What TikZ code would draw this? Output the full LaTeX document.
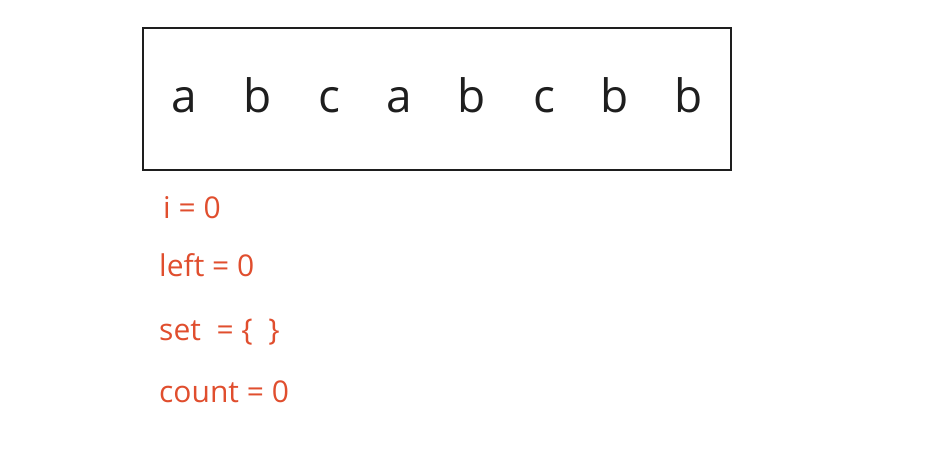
\documentclass[tikz,border=0pt]{standalone}
\usepackage{fontspec}
\setmainfont{Open Sans}
\definecolor{redtxt}{HTML}{E04E2E}
\definecolor{boxcol}{HTML}{1E1E1E}
\tikzset{
  letter/.style={anchor=base, inner sep=0pt, font=\fontsize{46}{50}\selectfont, text=boxcol},
  vartxt/.style={anchor=base west, inner sep=0pt, font=\fontsize{30}{33}\selectfont, text=redtxt},
  frame/.style={draw=boxcol, line width=2pt}
}
\begin{document}
\begin{tikzpicture}[x=1pt,y=-1pt]
\useasboundingbox (0,0) rectangle (925,464);
\node[frame, minimum width=588pt, minimum height=142pt, inner sep=0pt] (box) at (437,99) {};
\foreach \x/\t [count=\k] in {184/a,258/b,329/c,399/a,472/b,544/c,615/b,689/b}{
  \node[letter] (L\k) at (\x,112) {\t};
}
\node[vartxt] (vi) at (163,218) {i = 0};
\node[vartxt] (vleft) at (159,276) {left = 0};
\node[vartxt] (vset) at (159,340) {set\ \ = \{\ \ \}};
\node[vartxt] (vcount) at (159,402) {count = 0};
\end{tikzpicture}
\end{document}
